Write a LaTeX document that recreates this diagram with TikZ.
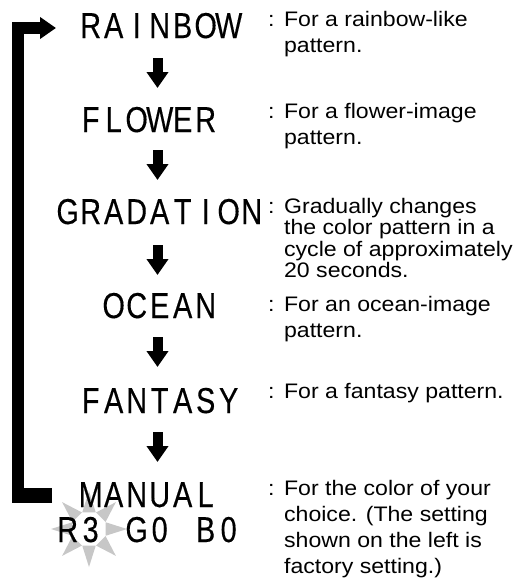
\documentclass[tikz,border=0pt]{standalone}
\usepackage{fontspec}
\setmainfont{Liberation Sans}
\newfontfamily\lcdfont[FakeStretch=0.8,FakeBold=0.3]{Liberation Sans}
\newfontfamily\descfont[FakeStretch=1.1]{Liberation Sans}
\usetikzlibrary{arrows.meta,calc}
\makeatletter
\newcommand\lcd[1]{\@tfor\lcdc:=#1\do{\makebox[23pt][c]{\lcdc}}}
\makeatother
\definecolor{burst}{gray}{0.78}
\tikzset{
  lcdword/.style={inner sep=0pt, anchor=base west, font=\lcdfont\fontsize{36}{36}\selectfont},
  desc/.style={inner sep=0pt, anchor=base west, font=\descfont\fontsize{21}{26}\selectfont},
  desctight/.style={desc, font=\descfont\fontsize{21}{21.3}\selectfont},
  downarrow/.style={line width=10pt, -{Triangle[width=21pt,length=16pt]}},
  bracketbar/.style={line width=12pt, miter limit=10, -{Triangle[width=21pt,length=16pt]}},
}
\newcommand\colonrow[2]{\begin{tabular}[t]{@{}l@{\hspace{9.5pt}}l@{}}:&#1#2\end{tabular}}
\begin{document}
\begin{tikzpicture}[x=1pt,y=-1pt]
\useasboundingbox (0,0) rectangle (527,582);
% sunburst behind R3
\coordinate (sun) at (89,529);
\foreach \a in {0,45,...,315}{
  \fill[burst] ($(sun)+(\a-22:18)$) -- ($(sun)+(\a:38)$) -- ($(sun)+(\a+22:18)$) -- cycle;
}
% words
\node[lcdword] (rainbow) at (79,38) {\lcd{RAINBOW}};
\node[lcdword] (flower) at (79,132) {\lcd{FLOWER}};
\node[lcdword] (gradation) at (56,224) {\lcd{GRADATION}};
\node[lcdword] (ocean) at (102,318) {\lcd{OCEAN}};
\node[lcdword] (fantasy) at (79,413) {\lcd{FANTASY}};
\node[lcdword] (manual) at (79,507) {\lcd{MANUAL}};
\node[lcdword] (rgb) at (56,542) {\lcd{R3}\hspace{23pt}\lcd{G0}\hspace{23pt}\lcd{B0}};
% descriptions
\node[desc] (d1) at (268,26) {\colonrow{For a rainbow-like}{\\ & pattern.}};
\node[desc] (d2) at (268,118) {\colonrow{For a flower-image}{\\ & pattern.}};
\node[desctight] (d3) at (268,213) {\colonrow{Gradually changes}{\\ & the color pattern in a\\ & cycle of approximately\\ & 20 seconds.}};
\node[desc] (d4) at (268,311) {\colonrow{For an ocean-image}{\\ & pattern.}};
\node[desc] (d5) at (268,398) {\colonrow{For a fantasy pattern.}{}};
\node[desc] (d6) at (268,495) {\colonrow{For the color of your}{\\ & choice. (The setting\\ & shown on the left is\\ & factory setting.)}};
% down arrows
\foreach \i/\t in {1/58,2/150,3/245,4/337,5/432}{
  \coordinate (a\i s) at (157.5,\t);
  \coordinate (a\i e) at (157.5,\t+30);
}
\draw[downarrow] (a1s) -- (a1e);
\draw[downarrow] (a2s) -- (a2e);
\draw[downarrow] (a3s) -- (a3e);
\draw[downarrow] (a4s) -- (a4e);
\draw[downarrow] (a5s) -- (a5e);
% return bracket
\coordinate (brkB) at (52,495.5);
\coordinate (brkT) at (56,28);
\draw[bracketbar] (brkB) -- ++(-34,0) |- (brkT);
\draw[line width=15pt] (brkB) -- ++(-40,0);
\end{tikzpicture}
\end{document}
